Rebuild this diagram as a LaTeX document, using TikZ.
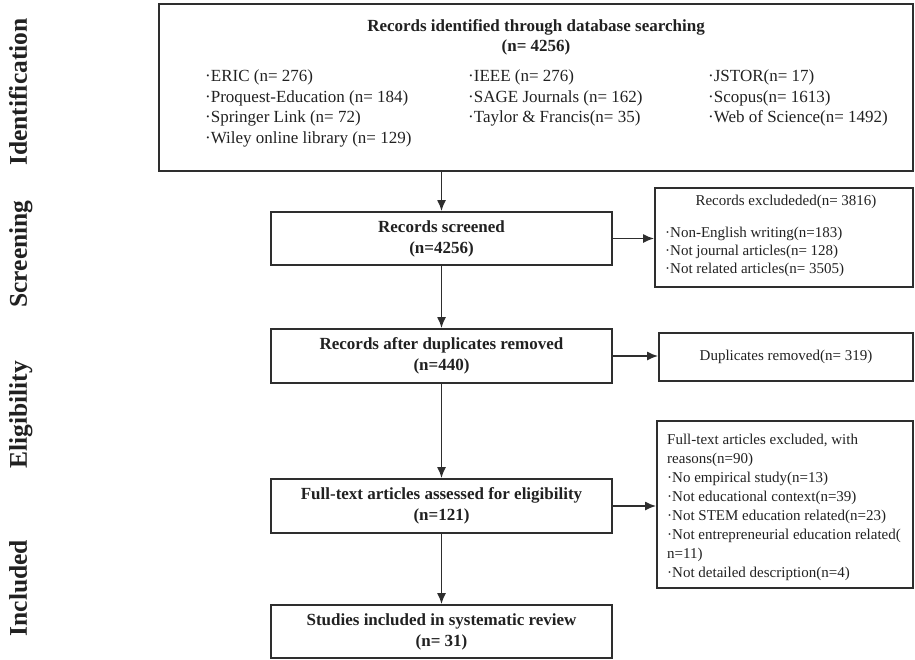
\documentclass[tikz,border=0pt]{standalone}
\usepackage{fontspec}
\setmainfont{Liberation Serif}
\usetikzlibrary{arrows.meta}
\definecolor{linec}{gray}{0.18}
\definecolor{textc}{gray}{0.13}
\begin{document}
\begin{tikzpicture}[x=1pt,y=-1pt,
  box/.style={draw=linec, line width=1.7pt, inner sep=0pt, rectangle, text=textc},
  mainbox/.style={box, minimum width=341pt, align=center, font=\fontsize{17}{21}\selectfont\bfseries},
  sidebox/.style={box},
  txt/.style={inner sep=0pt, text=textc},
  coltxt/.style={txt, anchor=north west, align=left, font=\fontsize{17}{20.7}\selectfont},
  smalltxt/.style={txt, font=\fontsize{15}{18}\selectfont},
  stage/.style={txt, rotate=90, anchor=base, font=\fontsize{25.5}{30}\selectfont\bfseries},
  arr/.style={draw=linec, line width=1.8pt, -{Latex[length=11pt,width=9pt]}}
]
\useasboundingbox (0,0) rectangle (915,659);

% stage labels
\node[stage] (lid) at (27,92) {Identification};
\node[stage] (lsc) at (27,254) {Screening};
\node[stage] (lel) at (27,415) {Eligibility};
\node[stage] (lin) at (27,588) {Included};

% identification box
\node[sidebox, minimum width=754pt, minimum height=167pt] (top) at (536,87.5) {};
\node[txt, anchor=north, align=center, font=\fontsize{17}{20}\selectfont\bfseries] (title) at (536,19.8)
  {Records identified through database searching\\(n= 4256)};
\node[coltxt] (c1) at (205,69.5) {·ERIC (n= 276)\\·Proquest-Education (n= 184)\\·Springer Link (n= 72)\\·Wiley online library (n= 129)};
\node[coltxt] (c2) at (468,69.5) {·IEEE (n= 276)\\·SAGE Journals (n= 162)\\·Taylor \& Francis(n= 35)};
\node[coltxt] (c3) at (708,69.5) {·JSTOR(n= 17)\\·Scopus(n= 1613)\\·Web of Science(n= 1492)};

% main column
\node[mainbox, minimum height=53pt] (scr) at (441.5,238.5) {Records screened\\(n=4256)};
\node[mainbox, minimum height=54pt] (dup) at (441.5,356) {Records after duplicates removed\\(n=440)};
\node[mainbox, minimum height=54pt] (ft) at (441.5,506) {Full-text articles assessed for eligibility\\(n=121)};
\node[mainbox, minimum height=53pt] (stu) at (441.5,631.5) {Studies included in systematic review\\(n= 31)};

% side boxes
\node[sidebox, minimum width=258pt, minimum height=99pt] (exc) at (784,237.5) {};
\node[smalltxt, anchor=base] (exct) at (786,205.5) {Records excludeded(n= 3816)};
\node[smalltxt, anchor=north west, align=left] (exci) at (665,226.4)
  {·Non-English writing(n=183)\\·Not journal articles(n= 128)\\·Not related articles(n= 3505)};

\node[sidebox, minimum width=254pt, minimum height=48pt, font=\fontsize{15}{18}\selectfont] (rem) at (786,357) {Duplicates removed(n= 319)};

\node[sidebox, minimum width=256pt, minimum height=167pt] (exc2) at (785,504.5) {};
\node[smalltxt, anchor=north west, align=left, font=\fontsize{15}{18.9}\selectfont] (exc2t) at (667,434.2)
  {Full-text articles excluded, with\\reasons(n=90)\\·No empirical study(n=13)\\·Not educational context(n=39)\\·Not STEM education related(n=23)\\·Not entrepreneurial education related(\\n=11)\\·Not detailed description(n=4)};

% arrows
\draw[arr] (scr.north |- top.south) -- (scr.north);
\draw[arr] (scr.south) -- (dup.north);
\draw[arr] (dup.south) -- (ft.north);
\draw[arr] (ft.south) -- (stu.north);
\draw[arr] (scr.east) -- (scr.east -| exc.west);
\draw[arr] (dup.east) -- (dup.east -| rem.west);
\draw[arr] (ft.east) -- (ft.east -| exc2.west);
\end{tikzpicture}
\end{document}
